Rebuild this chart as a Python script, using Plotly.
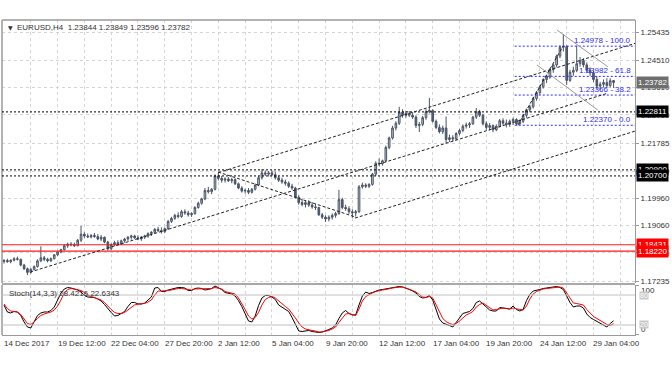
import plotly.graph_objects as go

# ---------------- data ----------------
opens = [1.1788,1.1791,1.1787,1.1792,1.1797,1.1795,1.1776,1.1764,1.1752,1.1762,
 1.1771,1.1790,1.1800,1.1795,1.1790,1.1797,1.1810,1.1819,1.1827,1.1840,
 1.1845,1.1843,1.1840,1.1858,1.1878,1.1872,1.1869,1.1874,1.1870,1.1862,
 1.1868,1.1852,1.1830,1.1844,1.1850,1.1846,1.1856,1.1862,1.1868,1.1872,
 1.1866,1.1862,1.1868,1.1872,1.1880,1.1884,1.1894,1.1890,1.1886,1.1896,
 1.1920,1.1930,1.1940,1.1936,1.1952,1.1948,1.1942,1.1946,1.1966,1.1980,
 1.1994,1.2022,1.2018,1.2026,1.2070,1.2062,1.2056,1.2060,1.2054,1.2058,
 1.2044,1.2030,1.2020,1.2022,1.2016,1.2026,1.2040,1.2064,1.2080,1.2076,
 1.2080,1.2074,1.2064,1.2056,1.2050,1.2046,1.2036,1.2030,1.2000,1.1982,
 1.1976,1.1982,1.1974,1.1968,1.1966,1.1942,1.1934,1.1928,1.1934,1.1940,
 1.1946,1.1992,1.1966,1.1962,1.1952,1.1948,1.1952,1.2034,1.2040,1.2036,
 1.2042,1.2076,1.2112,1.2110,1.2120,1.2164,1.2195,1.2228,1.2244,1.2280,
 1.2270,1.2276,1.2270,1.2264,1.2236,1.2240,1.2262,1.2282,1.2286,1.2250,
 1.2230,1.2216,1.2228,1.2190,1.2196,1.2192,1.2210,1.2220,1.2234,1.2238,
 1.2242,1.2264,1.2282,1.2270,1.2242,1.2230,1.2236,1.2222,1.2234,1.2252,
 1.2244,1.2240,1.2250,1.2256,1.2242,1.2250,1.2270,1.2288,1.2298,1.2325,
 1.2345,1.2364,1.2388,1.2396,1.2420,1.2436,1.2465,1.2494,1.2497,1.2385,
 1.2412,1.2418,1.2440,1.2450,1.2436,1.2418,1.2410,1.2388,1.2366,1.2372,
 1.2378,1.2368,1.23844]
highs = [1.1796,1.1797,1.1795,1.1802,1.1804,1.1797,1.1780,1.1768,1.1766,1.1775,
 1.1795,1.1838,1.1806,1.1800,1.1801,1.1812,1.1822,1.1830,1.1845,1.1850,
 1.1852,1.1850,1.1862,1.1905,1.1884,1.1880,1.1878,1.1882,1.1878,1.1875,
 1.1870,1.1856,1.1848,1.1856,1.1858,1.1860,1.1866,1.1872,1.1876,1.1876,
 1.1874,1.1872,1.1876,1.1884,1.1888,1.1898,1.1902,1.1900,1.1900,1.1925,
 1.1935,1.1945,1.1950,1.1958,1.1960,1.1955,1.1950,1.1970,1.1985,1.1998,
 1.2030,1.2034,1.2030,1.2075,1.2081,1.2070,1.2066,1.2066,1.2064,1.2062,
 1.2048,1.2036,1.2028,1.2030,1.2030,1.2045,1.2070,1.2092,1.2088,1.2086,
 1.2088,1.2085,1.2070,1.2064,1.2058,1.2052,1.2044,1.2034,1.2006,1.1994,
 1.1988,1.1990,1.1984,1.1978,1.1968,1.1948,1.1940,1.1940,1.1946,1.1952,
 1.2024,1.1998,1.1975,1.1970,1.1960,1.1958,1.2040,1.2048,1.2046,1.2046,
 1.2080,1.2118,1.2128,1.2124,1.2170,1.2200,1.2235,1.2250,1.2298,1.2290,
 1.2284,1.2284,1.2280,1.2270,1.2248,1.2268,1.2290,1.2327,1.2290,1.2256,
 1.2240,1.2236,1.2266,1.2206,1.2204,1.2214,1.2225,1.2240,1.2246,1.2248,
 1.2268,1.2294,1.2288,1.2275,1.2250,1.2244,1.2240,1.2240,1.2258,1.2260,
 1.2256,1.2256,1.2262,1.2260,1.2256,1.2275,1.2292,1.2305,1.2330,1.2350,
 1.2370,1.2392,1.2404,1.2425,1.2440,1.2470,1.2500,1.2537,1.2500,1.2420,
 1.2430,1.2500,1.2462,1.2458,1.2444,1.2428,1.2416,1.2400,1.2380,1.2388,
 1.2392,1.2392,1.23849]
lows = [1.1781,1.1784,1.1782,1.1788,1.1791,1.1772,1.1760,1.1743,1.1748,1.1758,
 1.1768,1.1786,1.1789,1.1785,1.1786,1.1795,1.1806,1.1815,1.1824,1.1833,
 1.1838,1.1836,1.1838,1.1852,1.1866,1.1865,1.1864,1.1866,1.1858,1.1855,
 1.1848,1.1824,1.1826,1.1838,1.1840,1.1842,1.1850,1.1856,1.1860,1.1862,
 1.1858,1.1856,1.1862,1.1866,1.1872,1.1880,1.1885,1.1880,1.1882,1.1892,
 1.1915,1.1925,1.1930,1.1932,1.1942,1.1936,1.1935,1.1942,1.1962,1.1975,
 1.1990,1.2012,1.2010,1.2022,1.2055,1.2048,1.2048,1.2050,1.2046,1.2040,
 1.2026,1.2015,1.2012,1.2010,1.2012,1.2022,1.2036,1.2058,1.2070,1.2068,
 1.2070,1.2058,1.2050,1.2044,1.2038,1.2030,1.2024,1.1995,1.1975,1.1970,
 1.1966,1.1968,1.1962,1.1958,1.1938,1.1928,1.1918,1.1920,1.1926,1.1932,
 1.1942,1.1960,1.1955,1.1945,1.1932,1.1936,1.1948,1.2028,1.2030,1.2030,
 1.2038,1.2070,1.2102,1.2104,1.2116,1.2158,1.2190,1.2220,1.2238,1.2262,
 1.2262,1.2264,1.2258,1.2228,1.2215,1.2234,1.2255,1.2276,1.2246,1.2224,
 1.2210,1.2208,1.2178,1.2182,1.2184,1.2188,1.2204,1.2214,1.2226,1.2228,
 1.2238,1.2258,1.2264,1.2236,1.2222,1.2220,1.2214,1.2218,1.2230,1.2236,
 1.2230,1.2232,1.2238,1.2237,1.2238,1.2244,1.2262,1.2280,1.2292,1.2318,
 1.2338,1.2358,1.2376,1.2390,1.2410,1.2428,1.2458,1.2480,1.2370,1.2380,
 1.2400,1.2412,1.2430,1.2428,1.2410,1.2400,1.2380,1.2356,1.2352,1.2362,
 1.2360,1.2362,1.23596]
closes = [1.1791,1.1787,1.1792,1.1797,1.1795,1.1776,1.1764,1.1752,1.1762,1.1771,
 1.1790,1.1800,1.1795,1.1790,1.1797,1.1810,1.1819,1.1827,1.1840,1.1845,
 1.1843,1.1840,1.1858,1.1878,1.1872,1.1869,1.1874,1.1870,1.1862,1.1868,
 1.1852,1.1830,1.1844,1.1850,1.1846,1.1856,1.1862,1.1868,1.1872,1.1866,
 1.1862,1.1868,1.1872,1.1880,1.1884,1.1894,1.1890,1.1886,1.1896,1.1920,
 1.1930,1.1940,1.1936,1.1952,1.1948,1.1942,1.1946,1.1966,1.1980,1.1994,
 1.2022,1.2018,1.2026,1.2070,1.2062,1.2056,1.2060,1.2054,1.2058,1.2044,
 1.2030,1.2020,1.2022,1.2016,1.2026,1.2040,1.2064,1.2080,1.2076,1.2080,
 1.2074,1.2064,1.2056,1.2050,1.2046,1.2036,1.2030,1.2000,1.1982,1.1976,
 1.1982,1.1974,1.1968,1.1966,1.1942,1.1934,1.1928,1.1934,1.1940,1.1946,
 1.1992,1.1966,1.1962,1.1952,1.1948,1.1952,1.2034,1.2040,1.2036,1.2042,
 1.2076,1.2112,1.2110,1.2120,1.2164,1.2195,1.2228,1.2244,1.2280,1.2270,
 1.2276,1.2270,1.2264,1.2236,1.2240,1.2262,1.2282,1.2286,1.2250,1.2230,
 1.2216,1.2228,1.2190,1.2196,1.2192,1.2210,1.2220,1.2234,1.2238,1.2242,
 1.2264,1.2282,1.2270,1.2242,1.2230,1.2236,1.2222,1.2234,1.2252,1.2244,
 1.2240,1.2250,1.2256,1.2242,1.2250,1.2270,1.2288,1.2298,1.2325,1.2345,
 1.2364,1.2388,1.2396,1.2420,1.2436,1.2465,1.2494,1.2497,1.2385,1.2412,
 1.2418,1.2440,1.2450,1.2436,1.2418,1.2410,1.2388,1.2366,1.2372,1.2378,
 1.2368,1.2384,1.23782]

stoch_k = [60,46,44,47,46,39,26,16,14,26,
 39,44,46,46,49,56,70,84,92,95,
 94,92,90,86,79,76,75,75,72,68,
 61,52,45,38,39,43,47,57,65,65,
 62,62,64,70,76,94,95,87,87,90,
 92,94,95,95,94,89,89,93,94,93,
 90,91,93,98,95,91,85,84,82,78,
 69,57,43,28,26,38,59,74,79,79,
 76,71,60,56,51,47,35,22,8,7,
 8,9,7,6,5,6,8,11,14,20,
 33,44,49,43,40,40,60,78,86,83,
 85,88,90,91,92,93,94,95,97,96,
 94,91,88,84,77,74,75,79,70,50,
 32,24,22,19,16,25,35,43,45,47,
 53,65,68,62,56,50,48,48,55,54,
 52,52,58,51,48,51,69,81,88,89,
 91,93,94,95,97,97,95,91,78,65,
 56,58,58,54,42,35,31,27,24,20,
 16,23,28.4216]
stoch_d = [62,53,48,47,46,41,31,23,21,26,
 33,39,42,44,46,50,58,70,84,91,
 93,92,91,89,85,80,77,75,73,70,
 65,57,51,45,43,43,45,50,55,60,
 62,62,63,66,70,80,88,88,88,89,
 90,92,93,93,92,90,90,92,92,92,
 92,92,93,95,94,92,87,85,83,82,
 74,63,51,38,32,35,45,60,71,75,
 77,74,68,62,57,52,44,34,24,16,
 12,10,9,8,6,6,7,9,12,16,
 25,33,42,43,41,39,52,68,77,81,
 84,87,89,90,91,93,94,95,96,96,
 94,92,89,86,80,76,75,77,74,60,
 44,33,27,23,21,23,28,35,40,43,
 47,56,61,64,59,54,50,51,52,54,
 53,52,54,52,51,50,58,72,82,87,
 90,92,93,94,95,96,96,94,84,72,
 64,63,62,60,51,43,37,33,29,25,
 21,19,22.6343]

label_idx = [0,16,32,48,64,80,96,112,128,144,160,176]
x_labels = ["14 Dec 2017","19 Dec 12:00","22 Dec 04:00","27 Dec 20:00","2 Jan 12:00",
            "5 Jan 04:00","9 Jan 20:00","12 Jan 12:00","17 Jan 04:00","19 Jan 20:00",
            "24 Jan 12:00","29 Jan 04:00"]
grid_idx = [8,16,24,32,40,48,56,64,72,80,88,96,104,112,120,128,136,144,152,160,168,176,184]
price_ticks = [1.25435,1.24510,1.23610,1.22710,1.21785,1.20860,1.19960,1.19060,1.18160,1.17235]

black_levels = [1.22811, 1.20900, 1.20700]
red_levels = [1.18431, 1.18220]
fib_levels = [1.24978, 1.23982, 1.23366, 1.22370]
fib_pct = ["100.0", "61.8", "38.2", "0.0"]
fib_start = 152.5
fib_diag = [(153.4, 1.22370), (166.9, 1.24978)]

# dashed trend lines: (i0, p0, i1, p1, ray_to_right)
dashed_lines = [
    (64.0, 1.2081, 150.0, 1.23755, True),    # upper channel
    (7.8, 1.1753, 180.3, 1.2343, False),     # lower channel
    (104.8, 1.1931, 150.0, 1.2086, True),    # lower parallel
    (63.9, 1.2083, 104.8, 1.1935, False),    # descending line
]
grey_lines = [
    (165.1, 1.2551, 180.3, 1.2430),
    (159.1, 1.2436, 177.3, 1.2287),
]
bid = 1.23782
stoch_levels = [80, 20]

# ---------------- figure ----------------
N = len(closes)
assert len(opens) == N and len(highs) == N and len(lows) == N
assert len(stoch_k) == N and len(stoch_d) == N
idx = list(range(N))
X_RANGE = [-0.6, 188.4]
Y_RANGE = [1.17170, 1.25841]
FONT = "Liberation Sans"
TXT = "#333333"
GRID = "#d4d4d4"
FRAME = "#9a9a9a"

fig = go.Figure()
fig.add_trace(go.Candlestick(
    x=idx, open=opens, high=highs, low=lows, close=closes,
    xaxis="x", yaxis="y",
    increasing=dict(line=dict(color="#4a5466", width=1), fillcolor="#c3cad6"),
    decreasing=dict(line=dict(color="#4a5466", width=1), fillcolor="#536077"),
    whiskerwidth=0, showlegend=False, hoverinfo="skip"))
fig.add_trace(go.Scatter(x=idx, y=stoch_k, xaxis="x2", yaxis="y2", mode="lines",
                         line=dict(color="#000000", width=1), showlegend=False, hoverinfo="skip"))
fig.add_trace(go.Scatter(x=idx, y=stoch_d, xaxis="x2", yaxis="y2", mode="lines",
                         line=dict(color="#ff0000", width=1), showlegend=False, hoverinfo="skip"))

MAIN_DOM = [0.1651, 1.0]
STO_DOM = [0.0, 0.1587]

fig.update_layout(
    width=672, height=372, margin=dict(l=2, r=37, t=20, b=37),
    paper_bgcolor="white", plot_bgcolor="white", showlegend=False,
    font=dict(family=FONT, size=8, color=TXT),
    xaxis=dict(domain=[0, 1], range=X_RANGE, anchor="y", tickvals=grid_idx,
               showticklabels=False, showgrid=True, gridcolor=GRID, griddash="dot",
               gridwidth=1, zeroline=False, showline=False, ticks="",
               rangeslider=dict(visible=False), fixedrange=True),
    yaxis=dict(domain=MAIN_DOM, range=Y_RANGE, side="right", anchor="x",
               tickvals=price_ticks, ticktext=[f"{v:.5f}" for v in price_ticks],
               showgrid=True, gridcolor=GRID, griddash="dot", gridwidth=1,
               ticks="outside", ticklen=3, tickcolor=FRAME,
               tickfont=dict(family=FONT, size=8, color=TXT),
               showline=True, linecolor=FRAME, linewidth=1, zeroline=False),
    xaxis2=dict(domain=[0, 1], range=X_RANGE, anchor="y2", tickvals=grid_idx,
                showticklabels=False, showgrid=True, gridcolor=GRID, griddash="dot",
                zeroline=False, showline=True, linecolor=FRAME, linewidth=1, ticks=""),
    yaxis2=dict(domain=STO_DOM, range=[0, 100], side="right", anchor="x2",
                tickvals=[0, 100], showticklabels=False, showgrid=False,
                ticks="outside", ticklen=3, tickcolor=FRAME,
                showline=True, linecolor=FRAME, linewidth=1, zeroline=False),
)

DASH = "3px,2px"
DOT = "2px,2px"
shapes = []
# frames
shapes.append(dict(type="line", xref="paper", yref="paper", x0=0, x1=0, y0=MAIN_DOM[0], y1=1,
                   line=dict(color=FRAME, width=1.5)))
shapes.append(dict(type="line", xref="paper", yref="paper", x0=0, x1=1, y0=1, y1=1,
                   line=dict(color=FRAME, width=1.5)))
shapes.append(dict(type="line", xref="paper", yref="paper", x0=0, x1=0, y0=0, y1=STO_DOM[1],
                   line=dict(color=FRAME, width=1.5)))
shapes.append(dict(type="rect", xref="paper", yref="paper", x0=0, x1=1,
                   y0=STO_DOM[1], y1=MAIN_DOM[0], fillcolor="#a8a8a8", line=dict(width=0)))
# stochastic levels
for lv in stoch_levels:
    shapes.append(dict(type="line", xref="x2 domain", yref="y2", x0=0, x1=1, y0=lv, y1=lv,
                       line=dict(color="#c0c0c0", width=1)))
# horizontal levels
for lv in black_levels:
    shapes.append(dict(type="line", xref="x domain", yref="y", x0=0, x1=1, y0=lv, y1=lv,
                       line=dict(color="#000000", width=1, dash=DOT)))
for lv in red_levels:
    shapes.append(dict(type="line", xref="x domain", yref="y", x0=0, x1=1, y0=lv, y1=lv,
                       line=dict(color="#ff1a1a", width=1.2)))
# fib levels
for lv in fib_levels:
    shapes.append(dict(type="line", xref="x", yref="y", x0=fib_start, x1=X_RANGE[1], y0=lv, y1=lv,
                       line=dict(color="#2b2bff", width=1, dash=DOT)))
shapes.append(dict(type="line", xref="x", yref="y", x0=fib_diag[0][0], y0=fib_diag[0][1],
                   x1=fib_diag[1][0], y1=fib_diag[1][1],
                   line=dict(color="#222222", width=1, dash=DASH)))
# dashed trend lines
for (a0, p0, a1, p1, ray) in dashed_lines:
    if ray:
        slope = (p1 - p0) / (a1 - a0)
        a1, p1 = X_RANGE[1], p0 + slope * (X_RANGE[1] - a0)
    shapes.append(dict(type="line", xref="x", yref="y", x0=a0, y0=p0, x1=a1, y1=p1,
                       line=dict(color="#222222", width=1, dash=DASH)))
for (a0, p0, a1, p1) in grey_lines:
    shapes.append(dict(type="line", xref="x", yref="y", x0=a0, y0=p0, x1=a1, y1=p1,
                       line=dict(color="#9a9a9a", width=1)))
fig.update_layout(shapes=shapes)

ann = []
# title
ann.append(dict(xref="paper", yref="paper", x=0, y=1, xanchor="left", yanchor="top",
                xshift=4, yshift=-2, showarrow=False, text="▼",
                font=dict(family="DejaVu Sans", size=6, color="#333")))
ann.append(dict(xref="paper", yref="paper", x=0, y=1, xanchor="left", yanchor="top",
                xshift=13, yshift=-1, showarrow=False,
                text="EURUSD,H4  1.23844 1.23849 1.23596 1.23782",
                font=dict(family=FONT, size=8, color=TXT)))
ann.append(dict(xref="paper", yref="paper", x=0, y=STO_DOM[1], xanchor="left", yanchor="top",
                xshift=5, yshift=-2, showarrow=False,
                text="Stoch(14,3,3) 28.4216 22.6343",
                font=dict(family=FONT, size=8, color=TXT)))
# x labels
for i, t in zip(label_idx, x_labels):
    ann.append(dict(xref="x2", yref="paper", x=i, y=0, xanchor="left", yanchor="top",
                    xshift=-2, yshift=-2, showarrow=False, text=t,
                    font=dict(family=FONT, size=8, color=TXT)))
# fib labels
for lv, pc in zip(fib_levels, fib_pct):
    ann.append(dict(xref="paper", yref="y", x=1, y=lv, xanchor="right", yanchor="bottom",
                    xshift=-2, yshift=-1, showarrow=False, text=f"{lv:.5f} - {pc}",
                    font=dict(family=FONT, size=8, color="#2b2bff")))
# price boxes
def box(price, bg, fg, yref="y"):
    return dict(xref="paper", yref=yref, x=1, y=price, xanchor="left", yanchor="middle",
                xshift=1, showarrow=False, text=f"{price:.5f}", bgcolor=bg, borderpad=1,
                font=dict(family=FONT, size=8, color=fg))
ann.append(box(bid, "#6e6e6e", "#ffffff"))
for lv in black_levels:
    ann.append(box(lv, "#000000", "#ffffff"))
for lv in red_levels:
    ann.append(box(lv, "#ff0000", "#ffffff"))
# stochastic scale labels
ann.append(dict(xref="paper", yref="y2", x=1, y=100, xanchor="left", yanchor="top",
                xshift=4, yshift=1, showarrow=False, text="100",
                font=dict(family=FONT, size=8, color=TXT)))
ann.append(dict(xref="paper", yref="y2", x=1, y=0, xanchor="left", yanchor="bottom",
                xshift=4, yshift=-1, showarrow=False, text="0",
                font=dict(family=FONT, size=8, color=TXT)))
for lv in stoch_levels:
    ann.append(dict(xref="paper", yref="y2", x=1, y=lv, xanchor="left", yanchor="middle",
                    xshift=4, showarrow=False, text=str(lv), bgcolor="#c8c8c8", borderpad=0,
                    font=dict(family=FONT, size=7, color="#ffffff")))
fig.update_layout(annotations=ann)

fig.write_html("out.html", config={"displayModeBar": False, "staticPlot": True},
               post_script="document.body.style.margin='0px';")
